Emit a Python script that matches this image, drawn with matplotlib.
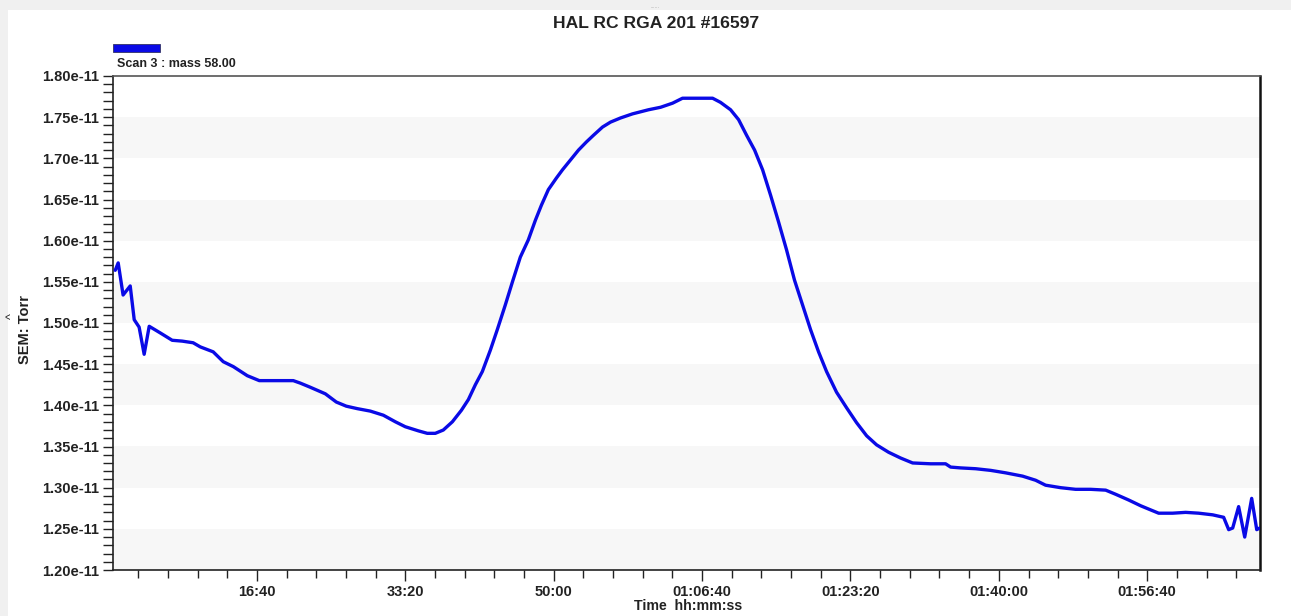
import matplotlib
matplotlib.use("Agg")
import matplotlib.pyplot as plt
import numpy as np
from matplotlib.patches import Rectangle
from matplotlib.ticker import FixedLocator, MultipleLocator

plt.rcParams['font.family'] = ['Liberation Sans', 'DejaVu Sans']

# ---- data (time in seconds, pressure in units of 1e-11 Torr) ----
time_s = [45, 65, 98, 146, 173, 206, 240, 274, 348, 429, 496, 570, 618, 705, 773, 841, 935,
          1016, 1245, 1292, 1359, 1461, 1535, 1602, 1676, 1764, 1852, 1933, 2000, 2088, 2148,
          2202, 2256, 2317, 2378, 2425, 2472, 2519, 2573, 2620, 2674, 2722, 2775, 2829, 2877,
          2917, 2964, 3018, 3059, 3113, 3167, 3221, 3268, 3329, 3383, 3450, 3531, 3639, 3720,
          3801, 3868, 4071, 4124, 4192, 4246, 4300, 4354, 4408, 4462, 4515, 4569, 4623, 4677,
          4731, 4785, 4839, 4906, 4974, 5041, 5109, 5176, 5257, 5338, 5419, 5540, 5641, 5675,
          5742, 5844, 5945, 6046, 6160, 6248, 6315, 6416, 6517, 6618, 6720, 6787, 6875, 6956,
          7023, 7077, 7171, 7259, 7347, 7441, 7515, 7549, 7576, 7616, 7657, 7704, 7738, 7758]
pressure_e11 = [1.564, 1.573, 1.534, 1.545, 1.504, 1.495, 1.462, 1.496, 1.488, 1.479, 1.478,
                1.476, 1.471, 1.465, 1.453, 1.447, 1.436, 1.430, 1.430, 1.427, 1.422, 1.414,
                1.404, 1.399, 1.396, 1.393, 1.388, 1.380, 1.374, 1.369, 1.366, 1.366, 1.370,
                1.380, 1.394, 1.407, 1.425, 1.441, 1.467, 1.492, 1.522, 1.550, 1.580, 1.601,
                1.625, 1.643, 1.662, 1.676, 1.686, 1.698, 1.710, 1.720, 1.728, 1.738, 1.744,
                1.749, 1.754, 1.759, 1.762, 1.767, 1.773, 1.773, 1.768, 1.759, 1.747, 1.728,
                1.710, 1.686, 1.655, 1.623, 1.589, 1.552, 1.522, 1.492, 1.465, 1.441, 1.416,
                1.397, 1.379, 1.363, 1.352, 1.343, 1.336, 1.330, 1.329, 1.329, 1.325, 1.324,
                1.323, 1.321, 1.318, 1.314, 1.309, 1.303, 1.300, 1.298, 1.298, 1.297, 1.292,
                1.285, 1.278, 1.273, 1.269, 1.269, 1.270, 1.269, 1.267, 1.264, 1.249, 1.251,
                1.277, 1.240, 1.287, 1.249, 1.251]

xtick_pos = [1000, 2000, 3000, 4000, 5000, 6000, 7000]
xtick_labels = ["16:40", "33:20", "50:00", "01:06:40", "01:23:20", "01:40:00", "01:56:40"]
ytick_pos = [1.20, 1.25, 1.30, 1.35, 1.40, 1.45, 1.50, 1.55, 1.60, 1.65, 1.70, 1.75, 1.80]
ytick_labels = ["%.2fe-11" % v for v in ytick_pos]

title = "HAL RC RGA 201 #16597"
series_name = "Scan 3 : mass 58.00"

W, H = 1291, 616
fig = plt.figure(figsize=(W / 100, H / 100), dpi=100)
fig.patch.set_facecolor('white')

# grey window border strips
fig.patches.append(Rectangle((0, 1 - 10 / H), 1, 10 / H, transform=fig.transFigure,
                             facecolor='#f0f0f0', edgecolor='none', zorder=0))
fig.patches.append(Rectangle((0, 0), 8 / W, 1, transform=fig.transFigure,
                             facecolor='#f0f0f0', edgecolor='none', zorder=0))
fig.text(655 / W, 1 - 6 / H, "......", ha='center', va='center', fontsize=4, color='#999999')

ax = fig.add_axes([113 / W, 1 - 570 / H, (1260 - 113) / W, (570 - 76) / H])
ax.set_facecolor('white')

# alternating bands
for i in range(0, len(ytick_pos) - 1, 2):
    ax.axhspan(ytick_pos[i], ytick_pos[i + 1], facecolor='#f7f7f7', edgecolor='none', zorder=0)

ax.plot(time_s, pressure_e11, color='#0a0ae6', lw=2.4, solid_joinstyle='round',
        solid_capstyle='round', zorder=3)

ax.set_xlim(30, 7760)
ax.set_ylim(1.20, 1.80)

ax.xaxis.set_major_locator(FixedLocator(xtick_pos))
ax.set_xticklabels(xtick_labels)
ax.xaxis.set_minor_locator(MultipleLocator(200))
ax.yaxis.set_major_locator(FixedLocator(ytick_pos))
ax.set_yticklabels(ytick_labels)
ax.yaxis.set_minor_locator(MultipleLocator(0.01))

for lab in ax.get_xticklabels() + ax.get_yticklabels():
    lab.set_fontweight('bold')
    lab.set_fontsize(10.5)
    lab.set_color('#222222')

ax.tick_params(axis='x', which='major', direction='out', length=8, width=1, pad=3, color='#222222')
ax.tick_params(axis='x', which='minor', direction='out', length=6, width=1, color='#222222')
ax.tick_params(axis='y', which='major', direction='out', length=7, width=1, pad=3, color='#222222')
ax.tick_params(axis='y', which='minor', direction='out', length=7, width=1, color='#222222')

for s in ax.spines.values():
    s.set_linewidth(1.2)
    s.set_color('#222222')
ax.spines['top'].set_color('#555555')
ax.spines['right'].set_linewidth(1.8)
ax.spines['right'].set_color('#111111')

# title
fig.text(656 / W, 1 - 24 / H, title, ha='center', va='center', fontsize=12.6,
         fontweight='bold', color='#222222')

# legend
fig.patches.append(Rectangle((113 / W, 1 - 52 / H), 47 / W, 8 / H, transform=fig.transFigure,
                             facecolor='#0a0ae6', edgecolor='#333366', lw=0.6, zorder=2))
fig.text(117 / W, 1 - 64 / H, series_name, ha='left', va='center', fontsize=9,
         fontweight='bold', color='#222222')

# axis labels
fig.text(25 / W, 1 - 330 / H, "SEM: Torr", ha='center', va='center', rotation=90,
         fontsize=10.5, fontweight='bold', color='#222222')
fig.text(12 / W, 1 - 316 / H, "^", ha='center', va='center', rotation=90,
         fontsize=9, color='#222222')
fig.text(688 / W, 1 - 606 / H, "Time  hh:mm:ss", ha='center', va='center',
         fontsize=10.2, fontweight='bold', color='#222222')

fig.savefig("out.png", dpi=100)
